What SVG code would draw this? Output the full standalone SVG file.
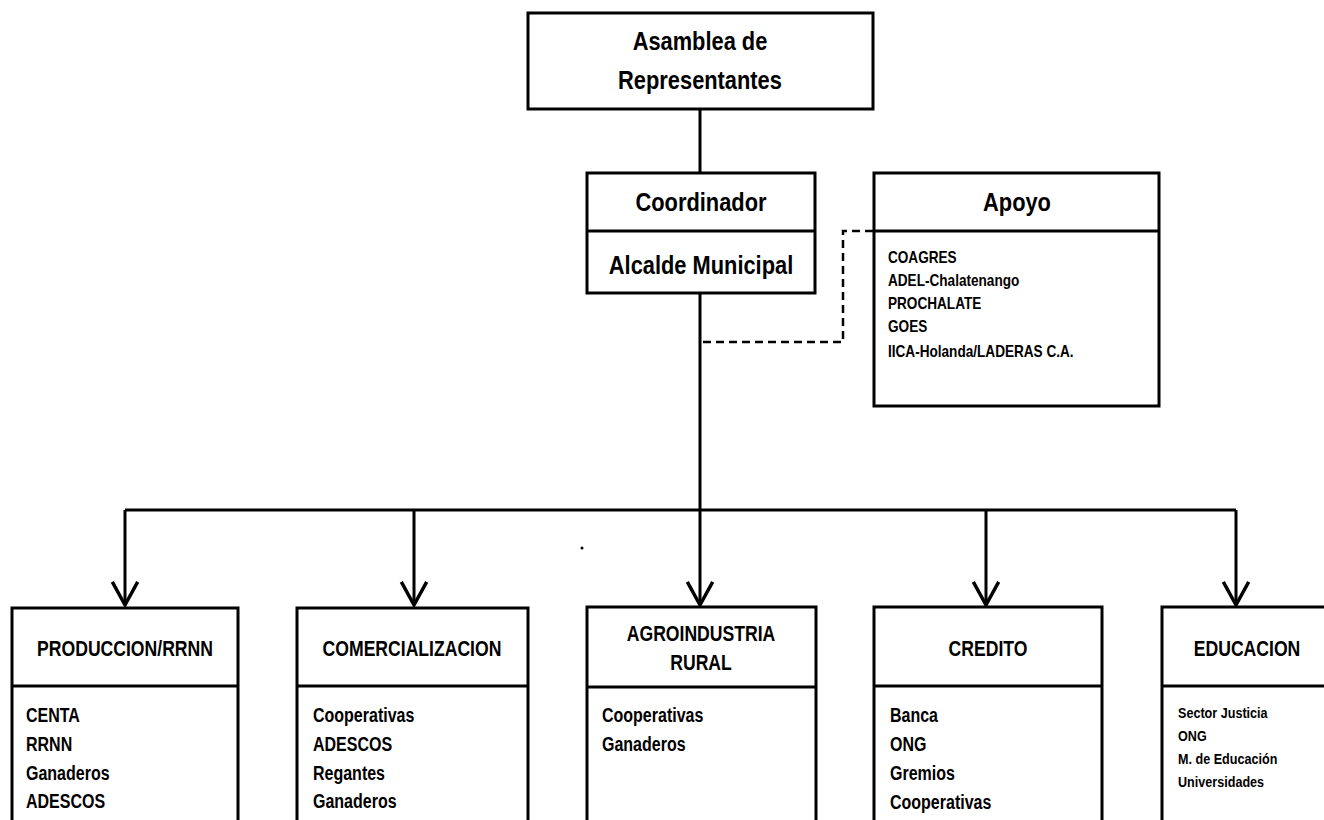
<svg xmlns="http://www.w3.org/2000/svg" width="1324" height="820" viewBox="0 0 1324 820">
<style>
.box{fill:#fff;stroke:#000;stroke-width:3}
.ln{fill:none;stroke:#000;stroke-width:3}
.dash{fill:none;stroke:#000;stroke-width:2.5;stroke-dasharray:8 5}
text{font-family:"Liberation Sans","Arial",sans-serif;font-weight:bold;fill:#000}
.t1{font-size:26px;text-anchor:middle}
.t2{font-size:22px;text-anchor:middle}
.it{font-size:20px}
.sm{font-size:16px}
.xs{font-size:15px}
</style>
<defs>
<marker id="arr" markerUnits="userSpaceOnUse" markerWidth="30" markerHeight="30" viewBox="-22 -13 26 26" refX="0" refY="0" orient="auto">
<path d="M-20,-11 L0,0 L-20,11" fill="none" stroke="#000" stroke-width="3"/>
</marker>
</defs>
<rect width="1324" height="820" fill="#fff"/>
<g id="connectors">
<line class="ln" x1="700" y1="109" x2="700" y2="173"/>
<line class="ln" x1="700" y1="293" x2="700" y2="605" marker-end="url(#arr)"/>
<line class="ln" x1="125" y1="510" x2="1236" y2="510"/>
<line class="ln" x1="125" y1="510" x2="125" y2="605" marker-end="url(#arr)"/>
<line class="ln" x1="414" y1="510" x2="414" y2="605" marker-end="url(#arr)"/>
<line class="ln" x1="986" y1="510" x2="986" y2="605" marker-end="url(#arr)"/>
<line class="ln" x1="1236" y1="510" x2="1236" y2="605" marker-end="url(#arr)"/>
<polyline class="dash" points="703,342 843,342 843,231 874,231"/>
</g>
<g id="asamblea">
<rect class="box" x="528" y="13" width="345" height="96"/>
<text class="t1" transform="translate(700 50) scale(.84 1)">Asamblea de</text>
<text class="t1" transform="translate(700 89) scale(.84 1)">Representantes</text>
</g>
<g id="coordinador">
<rect class="box" x="587" y="173" width="228" height="120"/>
<line class="ln" x1="587" y1="231" x2="815" y2="231"/>
<text class="t1" transform="translate(701 211) scale(.84 1)">Coordinador</text>
<text class="t1" transform="translate(701 274) scale(.84 1)">Alcalde Municipal</text>
</g>
<g id="apoyo">
<rect class="box" x="874" y="173" width="285" height="233"/>
<line class="ln" x1="874" y1="231" x2="1159" y2="231"/>
<text class="t1" transform="translate(1017 211) scale(.84 1)">Apoyo</text>
<text class="sm" transform="translate(888 263) scale(.85 1)">COAGRES</text>
<text class="sm" transform="translate(888 286) scale(.85 1)">ADEL-Chalatenango</text>
<text class="sm" transform="translate(888 309) scale(.85 1)">PROCHALATE</text>
<text class="sm" transform="translate(888 332) scale(.85 1)">GOES</text>
<text class="sm" transform="translate(888 357) scale(.85 1)">IICA-Holanda/LADERAS C.A.</text>
</g>
<g id="produccion">
<rect class="box" x="12" y="608" width="226" height="230"/>
<line class="ln" x1="12" y1="686" x2="238" y2="686"/>
<text class="t2" transform="translate(125 656) scale(.8 1)">PRODUCCION/RRNN</text>
<text class="it" transform="translate(26 722) scale(.8 1)">CENTA</text>
<text class="it" transform="translate(26 751) scale(.8 1)">RRNN</text>
<text class="it" transform="translate(26 780) scale(.8 1)">Ganaderos</text>
<text class="it" transform="translate(26 808) scale(.8 1)">ADESCOS</text>
</g>
<g id="comercializacion">
<rect class="box" x="297" y="608" width="231" height="230"/>
<line class="ln" x1="297" y1="686" x2="528" y2="686"/>
<text class="t2" transform="translate(412 656) scale(.8 1)">COMERCIALIZACION</text>
<text class="it" transform="translate(313 722) scale(.8 1)">Cooperativas</text>
<text class="it" transform="translate(313 751) scale(.8 1)">ADESCOS</text>
<text class="it" transform="translate(313 780) scale(.8 1)">Regantes</text>
<text class="it" transform="translate(313 808) scale(.8 1)">Ganaderos</text>
</g>
<g id="agroindustria">
<rect class="box" x="587" y="607" width="229" height="231"/>
<line class="ln" x1="587" y1="687" x2="816" y2="687"/>
<text class="t2" transform="translate(701 641) scale(.8 1)">AGROINDUSTRIA</text>
<text class="t2" transform="translate(701 670) scale(.8 1)">RURAL</text>
<text class="it" transform="translate(602 722) scale(.8 1)">Cooperativas</text>
<text class="it" transform="translate(602 751) scale(.8 1)">Ganaderos</text>
</g>
<g id="credito">
<rect class="box" x="874" y="607" width="228" height="231"/>
<line class="ln" x1="874" y1="686" x2="1102" y2="686"/>
<text class="t2" transform="translate(988 656) scale(.8 1)">CREDITO</text>
<text class="it" transform="translate(890 722) scale(.8 1)">Banca</text>
<text class="it" transform="translate(890 751) scale(.8 1)">ONG</text>
<text class="it" transform="translate(890 780) scale(.8 1)">Gremios</text>
<text class="it" transform="translate(890 809) scale(.8 1)">Cooperativas</text>
</g>
<g id="educacion">
<rect class="box" x="1162" y="607" width="200" height="231"/>
<line class="ln" x1="1162" y1="686" x2="1362" y2="686"/>
<text class="t2" transform="translate(1247 656) scale(.8 1)">EDUCACION</text>
<text class="xs" transform="translate(1178 718) scale(.84 1)">Sector Justicia</text>
<text class="xs" transform="translate(1178 741) scale(.84 1)">ONG</text>
<text class="xs" transform="translate(1178 764) scale(.84 1)">M. de Educación</text>
<text class="xs" transform="translate(1178 787) scale(.84 1)">Universidades</text>
</g>
<circle cx="582" cy="548" r="1.5" fill="#000"/>
</svg>
